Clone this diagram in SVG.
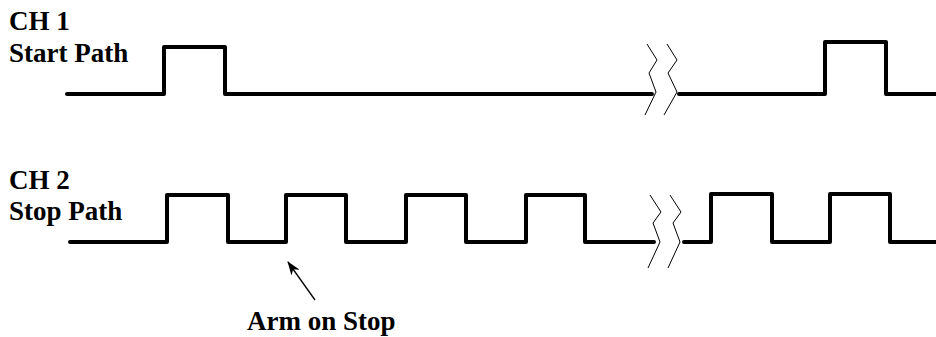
<svg xmlns="http://www.w3.org/2000/svg" width="936" height="337" viewBox="0 0 936 337">
<style>
.lbl{font-family:"Liberation Serif","Times New Roman",serif;font-weight:bold;font-size:27px;fill:#000}
.sig{fill:none;stroke:#000;stroke-width:4;stroke-linejoin:round;stroke-linecap:round}
.brk{fill:none;stroke:#000;stroke-width:1}
.arr{fill:none;stroke:#000;stroke-width:1.3}
</style>
<defs>
<marker id="ah" markerWidth="14" markerHeight="10" refX="13" refY="5" orient="auto" markerUnits="userSpaceOnUse">
<path d="M0,0 L14,5 L0,10 L4,5 Z" fill="#000"/>
</marker>
</defs>
<g id="ch1-label"><text class="lbl" x="9" y="30">CH 1</text><text class="lbl" x="9" y="62">Start Path</text></g>
<g id="ch2-label"><text class="lbl" x="9" y="189">CH 2</text><text class="lbl" x="9" y="220">Stop Path</text></g>
<g id="ch1-signal">
<path class="sig" d="M67,94 H164 V47 H225 V94 H652"/>
<path class="sig" d="M679,94 H825 V42 H886 V94 H936"/>
</g>
<g id="ch2-signal">
<path class="sig" d="M70,242 H167 V195 H228 V242 H286 V195 H346 V242 H406 V195 H466 V242 H526 V195 H585 V242 H654"/>
<path class="sig" d="M684,242 H711 V194 H772 V242 H830 V194 H890 V242 H936"/>
</g>
<g id="breaks">
<polyline class="brk" points="645,115 656,92 649,73 657,60 647,44"/>
<polyline class="brk" points="664,115 677,92 668,73 677,60 667,44"/>
<polyline class="brk" points="648,268 660,242 653,223 661,212 650,195"/>
<polyline class="brk" points="668,268 680,242 673,223 681,212 670,195"/>
</g>
<g id="connectors">
<line class="arr" x1="315" y1="300" x2="288" y2="262" marker-end="url(#ah)"/>
</g>
<g id="arm-label"><text class="lbl" x="247" y="330">Arm on Stop</text></g>
</svg>
